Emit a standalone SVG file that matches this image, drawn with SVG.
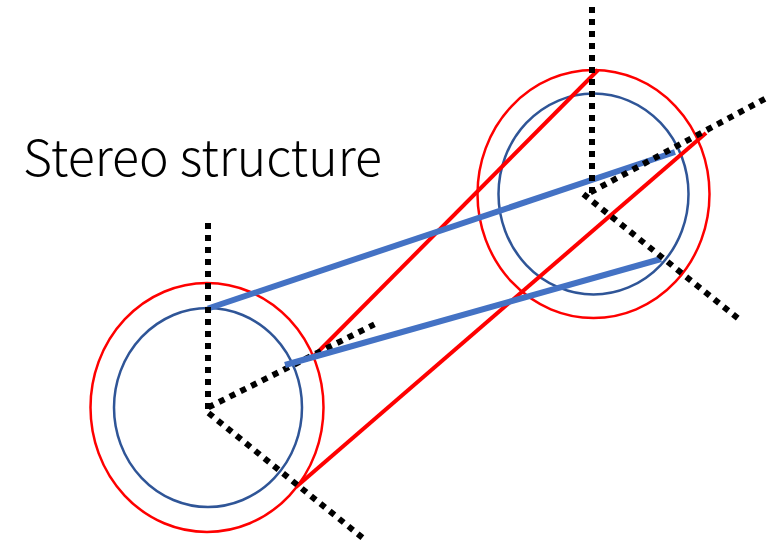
<svg xmlns="http://www.w3.org/2000/svg" width="780" height="543" viewBox="0 0 780 543">
<style>
.r{fill:none;stroke:#fe0000;stroke-width:2.5}
.b{fill:none;stroke:#2f5597;stroke-width:2.5}
.rl{stroke:#fe0000;stroke-width:4;fill:none}
.bl{stroke:#4472c4;stroke-width:6;fill:none}
.d{stroke:#000;stroke-width:6;stroke-dasharray:6 6;fill:none}
</style>
<rect width="780" height="543" fill="#fff"/>
<g id="left-sphere"><ellipse class="r" cx="207" cy="407.500" rx="116.500" ry="124.500"/><ellipse class="b" cx="208" cy="407.500" rx="94" ry="99.500"/></g>
<g id="right-sphere"><ellipse class="r" cx="593.500" cy="194" rx="116" ry="124"/><ellipse class="b" cx="593.500" cy="194" rx="95" ry="100.500"/></g>
<g id="connectors">
<path class="rl" d="M598 70L312 358"/>
<path class="rl" d="M706 133L296 487"/>
<path class="bl" d="M208 308.500L675 152"/>
<path class="d" d="M208 223V409"/>
<path class="d" d="M208.300 407.400L374.400 324.400"/>
<path class="d" d="M208.500 413L362.500 537.700"/>
<path class="bl" d="M285 365L661 259"/>
<path class="d" d="M592 7V193"/>
<path class="d" d="M590.400 192.400L766.600 97.900"/>
<path class="d" d="M583.400 194.100L740 320"/>
</g>
<text x="23" y="176" font-family="'Noto Sans CJK JP','Noto Sans',sans-serif" font-size="50" font-weight="300" fill="#000">Stereo structure</text>
</svg>
